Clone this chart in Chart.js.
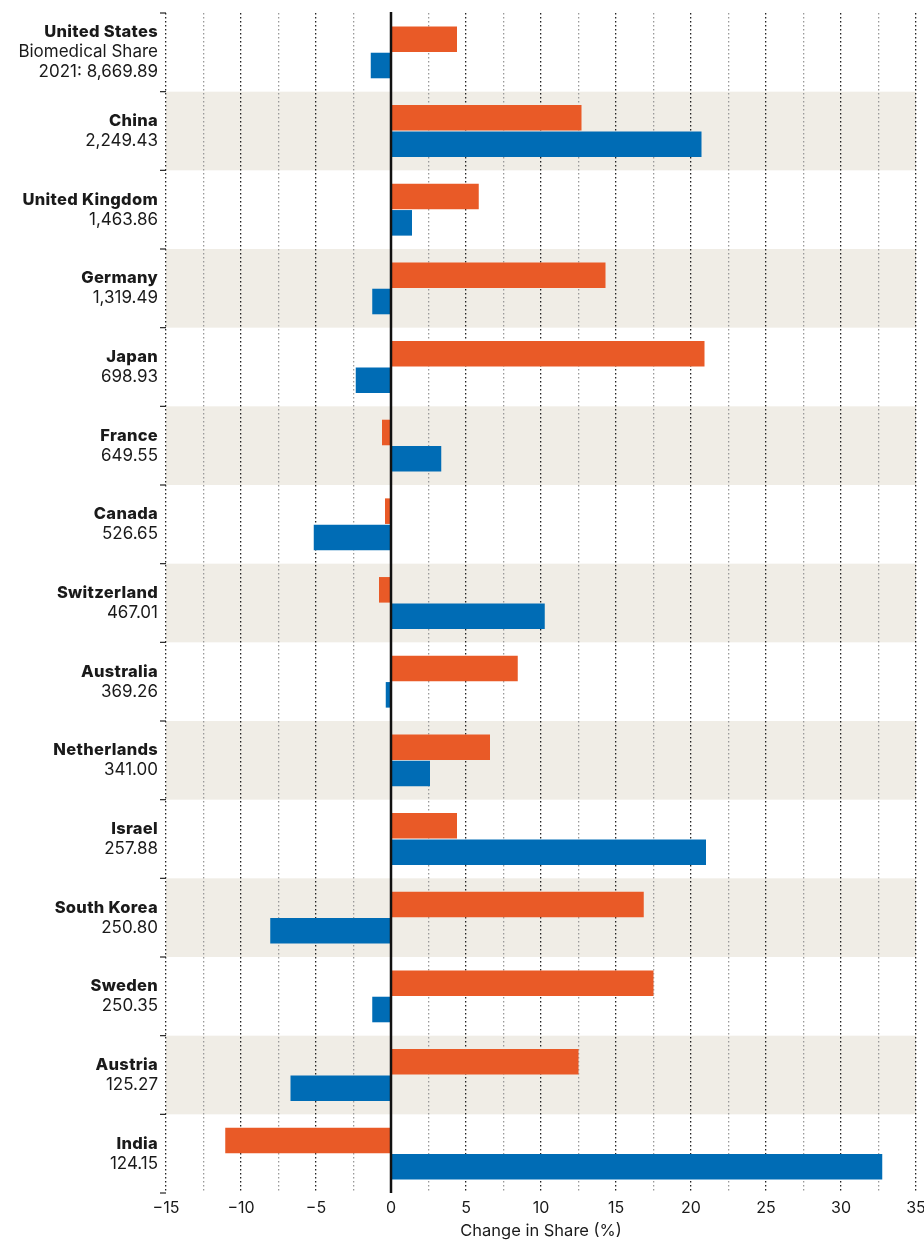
<!DOCTYPE html>
<html>
<head>
<meta charset="utf-8">
<script src="https://cdn.jsdelivr.net/npm/chart.js@4/dist/chart.umd.min.js"></script>
<style>
  html, body { margin: 0; padding: 0; background: #fff; overflow: hidden; }
  #wrap { position: relative; width: 940px; height: 1241px; }
</style>
</head>
<body>
<div id="wrap"><canvas id="c"></canvas></div>
<script>
const countries = ["United States","China","United Kingdom","Germany","Japan","France","Canada","Switzerland","Australia","Netherlands","Israel","South Korea","Sweden","Austria","India"];
const shareLines = [["Biomedical Share","2021: 8,669.89"],["2,249.43"],["1,463.86"],["1,319.49"],["698.93"],["649.55"],["526.65"],["467.01"],["369.26"],["341.00"],["257.88"],["250.80"],["250.35"],["125.27"],["124.15"]];
const orangeValues = [4.4, 12.7, 5.85, 14.3, 20.9, -0.6, -0.4, -0.8, 8.45, 6.6, 4.4, 16.85, 17.5, 12.5, -11.05];
const blueValues = [-1.35, 20.7, 1.4, -1.25, -2.35, 3.35, -5.15, 10.25, -0.35, 2.6, 21.0, -8.05, -1.25, -6.7, 32.75];
const xTickMin = -15, xTickMax = 35, xTickStep = 2.5;

const FONT = "Inter, 'Noto Sans', sans-serif";
const BOLD = '800 16.5px ' + FONT;
const REG = '400 17px ' + FONT;

const decorPlugin = {
  id: 'decor',
  beforeDraw(chart) {
    const {ctx, chartArea, scales} = chart;
    const y = scales.y;
    ctx.save();
    ctx.fillStyle = '#f0ede6';
    const n = countries.length;
    const step = (chartArea.bottom - chartArea.top) / n;
    for (let i = 0; i < n; i++) {
      if (i % 2 === 1) {
        const c = y.getPixelForValue(i);
        ctx.fillRect(chartArea.left, c - step / 2, chartArea.right - chartArea.left, step);
      }
    }
    ctx.restore();
  },
  afterDatasetsDraw(chart) {
    const {ctx, chartArea, scales} = chart;
    const x = scales.x, y = scales.y;
    const n = countries.length;
    const step = (chartArea.bottom - chartArea.top) / n;
    ctx.save();
    const x0 = x.getPixelForValue(0);
    ctx.strokeStyle = '#111';
    ctx.lineWidth = 2.5;
    ctx.beginPath();
    ctx.moveTo(x0, chartArea.top - 1);
    ctx.lineTo(x0, chartArea.bottom);
    ctx.stroke();
    ctx.lineWidth = 1.2;
    ctx.strokeStyle = '#222';
    for (let i = 0; i <= n; i++) {
      const yy = y.getPixelForValue(i) - step / 2;
      ctx.beginPath();
      ctx.moveTo(chartArea.left - 6, yy);
      ctx.lineTo(chartArea.left, yy);
      ctx.stroke();
    }
    ctx.fillStyle = '#1a1a1a';
    ctx.textAlign = 'right';
    ctx.textBaseline = 'middle';
    const lh = 20;
    for (let i = 0; i < n; i++) {
      const lines = [countries[i], ...shareLines[i]];
      const c = y.getPixelForValue(i);
      const start = c - (lines.length - 1) * lh / 2;
      lines.forEach((t, k) => {
        if (k === 0) {
          ctx.font = BOLD;
          ctx.letterSpacing = '0.3px';
        } else {
          ctx.font = REG;
          ctx.letterSpacing = '0px';
        }
        ctx.fillText(t, chartArea.left - 8, start + k * lh);
      });
    }
    ctx.restore();
  }
};

const fmt = v => (v < 0 ? '\u2212' + Math.abs(v) : String(v));

function build() {
  const chart = new Chart(document.getElementById('c'), {
    type: 'bar',
    data: {
      labels: countries,
      datasets: [
        { label: 'Orange series', data: orangeValues, backgroundColor: '#e95a27', categoryPercentage: 0.67, barPercentage: 0.97 },
        { label: 'Blue series', data: blueValues, backgroundColor: '#006cb5', categoryPercentage: 0.67, barPercentage: 0.97 }
      ]
    },
    options: {
      indexAxis: 'y',
      responsive: true,
      maintainAspectRatio: false,
      animation: false,
      layout: { padding: { top: 13, right: 24, left: 0, bottom: 0 } },
      plugins: { legend: { display: false }, tooltip: { enabled: false } },
      scales: {
        x: {
          type: 'linear',
          min: xTickMin, max: xTickMax,
          afterBuildTicks(scale) {
            const t = [];
            for (let v = xTickMin; v <= xTickMax + 1e-9; v += xTickStep) t.push({ value: v });
            scale.ticks = t;
          },
          afterFit(scale) { scale.height = 48; },
          ticks: {
            autoSkip: false, maxRotation: 0, padding: 6,
            color: '#1a1a1a',
            font: { family: FONT, size: 16 },
            callback: v => (Math.abs(v % 5) < 1e-9 ? fmt(v) : '')
          },
          grid: {
            drawTicks: false,
            color: ctx => (ctx.tick && Math.abs(ctx.tick.value % 5) < 1e-9 ? '#222' : '#999'),
            lineWidth: 1.3
          },
          border: { display: false, dash: [1.5, 2.5] },
          title: { display: true, text: 'Change in Share (%)', color: '#1a1a1a', font: { family: FONT, size: 16.5 }, padding: { top: 0, bottom: 0 } }
        },
        y: {
          afterFit(scale) { scale.width = 166; },
          ticks: { display: false },
          grid: { display: false },
          border: { display: false }
        }
      }
    },
    plugins: [decorPlugin]
  });
  setTimeout(() => chart.draw(), 200);
}

const loads = [BOLD, REG, '400 16px Inter', '400 16.5px Inter'].map(f => document.fonts.load(f).catch(() => null));
let built = false;
const go = () => { if (!built) { built = true; build(); } };
Promise.all(loads).then(go);
setTimeout(go, 800);
</script>
</body>
</html>
